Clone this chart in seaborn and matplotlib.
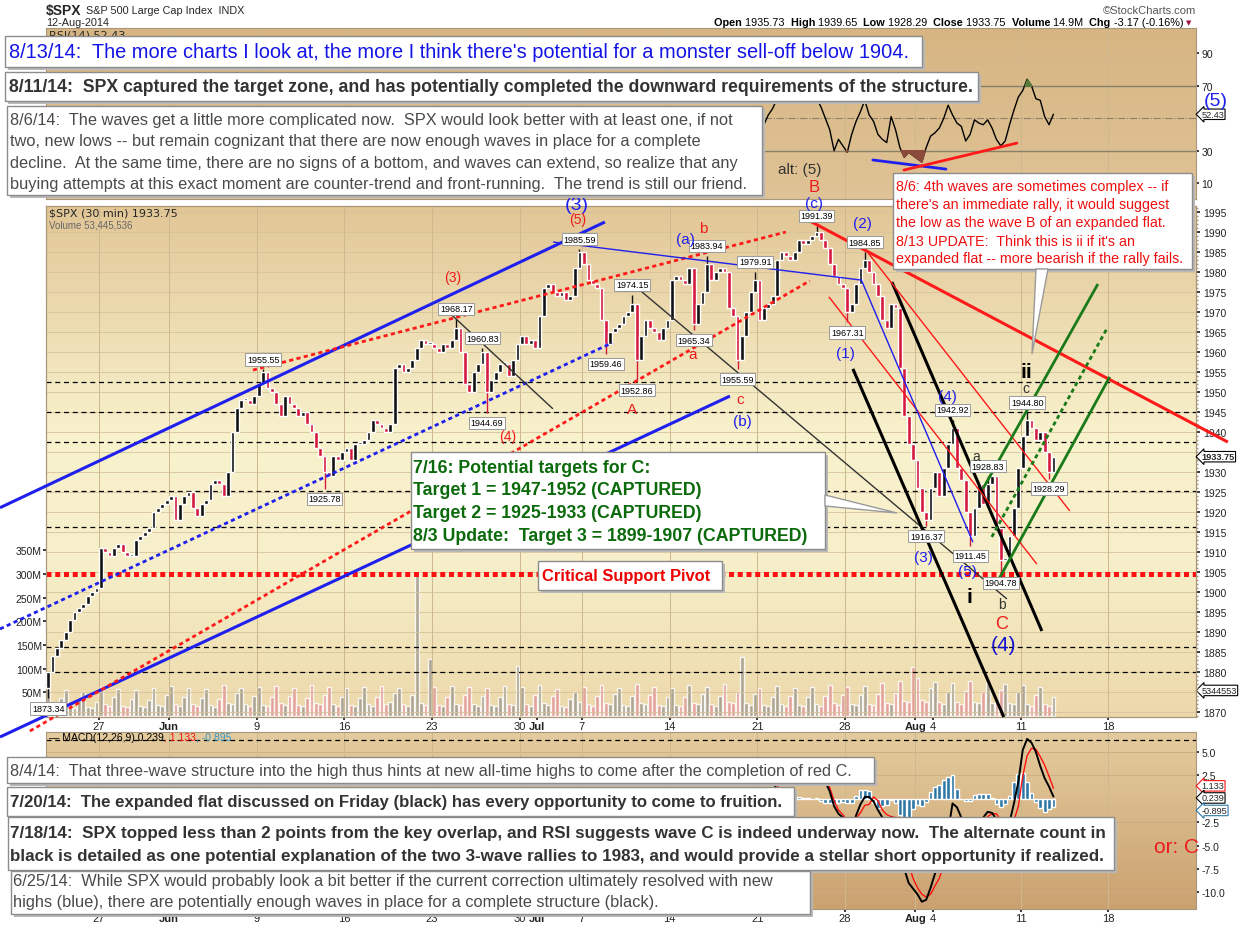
import matplotlib
matplotlib.use("Agg")
import numpy as np
import pandas as pd
import seaborn as sns
import matplotlib.pyplot as plt
from matplotlib.colors import LinearSegmentedColormap
from matplotlib.patches import Rectangle, Polygon
from matplotlib.ticker import MultipleLocator

# ------------------------------------------------------------------
# values (30 min SPX, four closes per session)
# ------------------------------------------------------------------
days = [d.strftime("%Y-%m-%d") for d in pd.bdate_range("2014-05-21", "2014-08-12")
        if d.strftime("%Y-%m-%d") not in ("2014-05-26", "2014-07-04")]
half_days = ["2014-07-03"]
first_open = 1876.0

closes = [
    [1880, 1884, 1886, 1888], [1890, 1893, 1895, 1896], [1897, 1899, 1900, 1901],
    [1911, 1910, 1909, 1911], [1912, 1910, 1909, 1909], [1913, 1914, 1915, 1916],
    [1920, 1921, 1922, 1923], [1924, 1918, 1922, 1924], [1925, 1921, 1919, 1922],
    [1923, 1927, 1928, 1927], [1924, 1930, 1940, 1946], [1948, 1948, 1947, 1949],
    [1952, 1955, 1951, 1950], [1947, 1944, 1949, 1947], [1946, 1944, 1945, 1942],
    [1940, 1936, 1934, 1930], [1929, 1934, 1933, 1935], [1936, 1933, 1937, 1937],
    [1938, 1940, 1943, 1942], [1941, 1940, 1942, 1956], [1957, 1955, 1956, 1958],
    [1961, 1963, 1962, 1962], [1961, 1960, 1962, 1961], [1963, 1966, 1960, 1952],
    [1950, 1955, 1957, 1960], [1950, 1953, 1955, 1957], [1957, 1954, 1958, 1962],
    [1964, 1962, 1963, 1961], [1969, 1976, 1977, 1975], [1974, 1975, 1973, 1974],
    [1981, 1985],
    [1982, 1978, 1977, 1976], [1968, 1962, 1965, 1966], [1967, 1969, 1970, 1972],
    [1958, 1964, 1968, 1966], [1965, 1963, 1966, 1968], [1978, 1979, 1978, 1977],
    [1981, 1967, 1972, 1975], [1982, 1978, 1980, 1981], [1980, 1971, 1969, 1958],
    [1964, 1970, 1975, 1978], [1968, 1971, 1972, 1974], [1983, 1985, 1984, 1983],
    [1985, 1988, 1987, 1988], [1989, 1990, 1988, 1986], [1982, 1979, 1977, 1976],
    [1970, 1972, 1977, 1981], [1983, 1980, 1977, 1974], [1968, 1966, 1972, 1971],
    [1956, 1944, 1937, 1933], [1926, 1920, 1918, 1926], [1930, 1924, 1931, 1937],
    [1941, 1931, 1928, 1920], [1914, 1921, 1927, 1922], [1927, 1929, 1916, 1908],
    [1908, 1914, 1921, 1931], [1939, 1943, 1941, 1938], [1940, 1935, 1930, 1933.75],
]

volumes = [  # millions
    [58, 24, 20, 38], [55, 22, 18, 35], [50, 20, 17, 30], [62, 25, 21, 40],
    [58, 22, 20, 36], [55, 21, 19, 34], [60, 24, 22, 45], [64, 26, 22, 40],
    [60, 25, 21, 38], [58, 24, 20, 36], [66, 28, 26, 48], [60, 25, 22, 42],
    [62, 24, 21, 40], [64, 27, 23, 42], [60, 24, 21, 38], [66, 28, 25, 45],
    [62, 26, 22, 40], [60, 24, 21, 38], [62, 25, 22, 40], [64, 26, 30, 48],
    [60, 25, 22, 44], [305, 28, 24, 120], [62, 24, 21, 40], [64, 26, 24, 45],
    [62, 25, 22, 42], [60, 24, 21, 40], [64, 26, 24, 105], [62, 25, 22, 44],
    [66, 27, 23, 42], [58, 22, 19, 36], [50, 30],
    [62, 25, 22, 42], [66, 28, 25, 46], [60, 24, 22, 42], [68, 28, 25, 45],
    [62, 24, 21, 40], [60, 24, 21, 40], [66, 27, 25, 46], [62, 25, 22, 42],
    [68, 30, 28, 50], [125, 28, 24, 46], [60, 24, 21, 40], [64, 26, 22, 42],
    [60, 24, 21, 40], [62, 25, 22, 42], [66, 27, 24, 45], [62, 26, 24, 44],
    [64, 26, 24, 46], [70, 28, 26, 48], [75, 32, 30, 103], [80, 34, 30, 60],
    [72, 30, 26, 50], [70, 29, 26, 52], [74, 30, 27, 50], [70, 28, 27, 55],
    [68, 28, 25, 50], [66, 26, 22, 45], [62, 25, 22, 40],
]
last_volume = 5344553

# labelled swing highs / lows: (session, quarter, price, side)
swing_points = [
    ("2014-05-21", 0, 1873.34, "low"), ("2014-06-09", 1, 1955.55, "high"),
    ("2014-06-12", 3, 1925.78, "low"), ("2014-06-24", 1, 1968.17, "high"),
    ("2014-06-25", 3, 1960.83, "high"), ("2014-06-26", 0, 1944.69, "low"),
    ("2014-07-03", 1, 1985.59, "high"), ("2014-07-08", 1, 1959.46, "low"),
    ("2014-07-09", 3, 1974.15, "high"), ("2014-07-10", 0, 1952.86, "low"),
    ("2014-07-15", 1, 1965.34, "low"), ("2014-07-16", 0, 1983.94, "high"),
    ("2014-07-17", 3, 1955.59, "low"), ("2014-07-18", 3, 1979.91, "high"),
    ("2014-07-24", 1, 1991.39, "high"), ("2014-07-28", 0, 1967.31, "low"),
    ("2014-07-29", 0, 1984.85, "high"), ("2014-08-01", 2, 1916.37, "low"),
    ("2014-08-05", 0, 1942.92, "high"), ("2014-08-06", 0, 1911.45, "low"),
    ("2014-08-07", 0, 1928.83, "high"), ("2014-08-07", 3, 1904.78, "low"),
    ("2014-08-11", 1, 1944.80, "high"), ("2014-08-12", 2, 1928.29, "low"),
]

# indicators (only the part not hidden behind the notes)
ind_from = "2014-07-21"
rsi_values = [
    [45, 46, 52, 56], [62, 61, 60, 60], [60, 61, 60, 60], [61, 62, 57, 50],
    [43, 30, 37, 33], [29, 40, 48, 54], [61, 52, 48, 40], [37, 35, 51, 43],
    [32, 26, 29, 27], [25, 23, 32, 39], [41, 44, 50, 58], [52, 47, 45, 36],
    [40, 49, 47, 46], [49, 44, 37, 33], [36, 46, 55, 63], [67, 74, 70, 62],
    [61, 51, 46, 52.43],
]
macd_values = [
    [0.5, 0.2, 0.4, 0.6], [1.8, 2.5, 2.8, 2.9], [3.0, 3.3, 3.3, 3.4], [3.4, 3.5, 2.9, 1.8],
    [0.8, -0.8, -1.6, -2.0], [-2.8, -3.0, -1.8, -0.6], [0.2, 0.2, -0.3, -1.2],
    [-2.0, -2.4, -2.0, -2.5], [-5.0, -7.5, -9.0, -9.6], [-10.2, -11.0, -10.8, -9.5],
    [-8.0, -7.0, -5.0, -3.5], [-0.5, -0.9, -2.0, -3.5], [-4.0, -3.5, -2.5, -2.0],
    [-1.4, -1.5, -2.2, -3.2], [-3.5, -2.5, -0.5, 1.8], [5.2, 6.4, 6.0, 5.0],
    [3.5, 2.2, 1.3, 0.239],
]
signal_values = [
    [0.6, 0.4, 0.4, 0.5], [1.2, 1.9, 2.4, 2.7], [2.9, 3.1, 3.2, 3.3], [3.4, 3.4, 3.1, 2.3],
    [1.2, -0.2, -1.2, -1.7], [-2.3, -2.6, -2.1, -1.5], [-0.7, -0.6, 0.2, -0.2],
    [-1.2, -1.7, -1.9, -2.0], [-3.3, -5.2, -7.0, -8.5], [-9.5, -10.2, -10.5, -10.2],
    [-9.3, -8.5, -7.0, -5.8], [-3.0, -2.0, -2.0, -3.3], [-3.8, -3.9, -3.0, -2.5],
    [-1.9, -1.6, -1.6, -2.3], [-2.9, -2.8, -2.3, -0.8], [2.4, 4.6, 5.4, 5.3],
    [4.5, 3.6, 2.4, 1.133],
]
macd_readout = {"macd": 0.239, "signal": 1.133, "hist": -0.895}

tick_dates = ["2014-05-27", "2014-06-02", "2014-06-09", "2014-06-16", "2014-06-23",
              "2014-06-30", "2014-07-01", "2014-07-07", "2014-07-14", "2014-07-21",
              "2014-07-28", "2014-08-01", "2014-08-04", "2014-08-11", "2014-08-18"]
tick_labels = ["27", "Jun", "9", "16", "23", "30", "Jul", "7", "14", "21", "28",
               "Aug", "4", "11", "18"]
grid_dates = ["2014-05-27", "2014-06-02", "2014-06-09", "2014-06-16", "2014-06-23",
              "2014-06-30", "2014-07-07", "2014-07-14", "2014-07-21", "2014-07-28",
              "2014-08-01", "2014-08-11", "2014-08-18"]
price_levels = [1952.3, 1944.8, 1937.3, 1925.3, 1916.1, 1886.3, 1879.9]
support_pivot = 1904.4
quote = dict(Open="1935.73", High="1939.65", Low="1928.29", Close="1933.75",
             Volume="14.9M", Chg="-3.17 (-0.16%)")

# ------------------------------------------------------------------
W, H = 1240, 928
BLUE, RED, GREEN = "#1f1fee", "#ee1c1c", "#0b6a0b"
UPC, DNC = "#111111", "#d41a3c"

sns.set_theme(style="white")
plt.rcParams["font.family"] = ["Liberation Sans", "DejaVu Sans"]

future = [d.strftime("%Y-%m-%d") for d in pd.bdate_range("2014-08-13", "2014-08-29")]
all_days = days + future
nbars = [7 if d in half_days else 13 for d in all_days]
start = dict(zip(all_days, np.concatenate([[0], np.cumsum(nbars)[:-1]])))

rows = []
for d, cl, vo in zip(days, closes, volumes):
    n = 7 if d in half_days else 13
    for k, (c, v) in enumerate(zip(cl, vo)):
        rows.append(dict(day=d, q=k, x=start[d] + (k + 0.5) * n / len(cl), close=c, vol=v))
bars = pd.DataFrame(rows)
bars["open"] = bars["close"].shift(1).fillna(first_open)
bars["high"] = bars[["open", "close"]].max(axis=1)
bars["low"] = bars[["open", "close"]].min(axis=1)
key = {(r.day, r.q): i for i, r in bars.iterrows()}
for d, q, p, side in swing_points:
    i = key[(d, q)]
    if side == "high":
        bars.loc[i, "high"] = max(bars.loc[i, "high"], p)
    else:
        bars.loc[i, "low"] = min(bars.loc[i, "low"], p)
bars["up"] = bars["close"] >= bars["open"]

ind = bars[bars["day"] >= ind_from].copy()
ind["rsi"] = [v for row in rsi_values for v in row]
ind["macd"] = [v for row in macd_values for v in row]
ind["signal"] = [v for row in signal_values for v in row]
ind["hist"] = ind["macd"] - ind["signal"]

fig = plt.figure(figsize=(W / 100, H / 100), dpi=100)
fig.patch.set_facecolor("white")


def rect(x0, y0, x1, y1):
    return [x0 / W, 1 - y1 / H, (x1 - x0) / W, (y1 - y0) / H]


ax_rsi = fig.add_axes(rect(46, 29, 1196, 200))
ax_vol = fig.add_axes(rect(46, 207, 1196, 718))
ax = fig.add_axes(rect(46, 207, 1196, 718))
ax_macd = fig.add_axes(rect(46, 733, 1196, 910))
ov = fig.add_axes([0, 0, 1, 1], zorder=20)
ov.set_xlim(0, W)
ov.set_ylim(H, 0)
ov.axis("off")


def shade(axis, stops):
    cmap = LinearSegmentedColormap.from_list("bg", stops)
    axis.imshow(np.linspace(0, 1, 256).reshape(-1, 1), cmap=cmap, origin="lower",
                extent=[0, 1, 0, 1], transform=axis.transAxes, aspect="auto", zorder=-5)


shade(ax_vol, [(0, "#ECD8AA"), (0.3, "#F7EFC9"), (0.55, "#F8F2CD"), (1, "#E2C696")])
shade(ax_rsi, [(0, "#E0C396"), (1, "#D6B582")])
shade(ax_macd, [(0, "#CBA170"), (1, "#E4CC9E")])
ax.set_facecolor("none")

XMAX = 852
for axis in (ax_rsi, ax_vol, ax, ax_macd):
    axis.set_xlim(0, XMAX)
    for s in axis.spines.values():
        s.set_color("#a8977a")
        s.set_linewidth(0.8)
    for d in grid_dates:
        axis.axvline(start[d], color="#cdb88f", lw=0.7, zorder=0.5)

# ---- volume ----
ax_vol.set_ylim(-2, 1078)
ax_vol.bar(bars["x"], bars["vol"], width=2.8,
           color=np.where(bars["up"], "#a39c8c", "#e39a96"), alpha=0.85, zorder=1)
ax_vol.set_yticks([50, 100, 150, 200, 250, 300, 350])
ax_vol.set_yticklabels([f"{v}M" for v in [50, 100, 150, 200, 250, 300, 350]])
ax_vol.tick_params(axis="y", left=True, labelleft=True, length=2, pad=1, labelsize=7.5,
                   colors="#222")
ax_vol.set_xticks([])

# ---- price ----
ax.set_ylim(1868.7, 1996.4)
for p in np.arange(1870, 2000, 5):
    ax.axhline(p, color="#d6c39c", lw=0.6, zorder=0.4)
for p in price_levels:
    ax.axhline(p, color="black", lw=0.9, ls=(0, (4, 3)), zorder=2)
ax.axhline(support_pivot, color="#ff1010", lw=3.6, ls=(0, (1, 0.75)), zorder=2)

colors = np.where(bars["up"], UPC, DNC)
ax.vlines(bars["x"], bars["low"], bars["high"], colors=colors, lw=1.0, zorder=4)
ax.bar(bars["x"], np.maximum((bars["close"] - bars["open"]).abs(), 0.35),
       bottom=bars[["open", "close"]].min(axis=1), width=2.8, color=colors, zorder=4)

trendlines = [
    ((-34.1, 1921.0), (414.1, 1992.4), BLUE, 2.2, "-"),
    ((-34.1, 1863.7), (506.7, 1948.9), BLUE, 2.2, "-"),
    ((-34.1, 1890.7), (419.3, 1962.2), BLUE, 2.0, (0, (1.5, 1.2))),
    ((153.3, 1955.4), (548.1, 1989.9), "#ff1a1a", 2.0, (0, (1.5, 1.2))),
    ((-11.9, 1865.2), (565.9, 1977.7), "#ff1a1a", 2.0, (0, (1.5, 1.2))),
    ((375.6, 1987.4), (603.7, 1977.9), BLUE, 1.0, "-"),
    ((294.1, 1971.2), (375.6, 1945.7), "#333333", 1.0, "-"),
    ((437.0, 1976.2), (711.9, 1898.2), "#333333", 1.0, "-"),
    ((597.8, 1955.7), (709.6, 1868.7), "black", 2.2, "-"),
    ((626.7, 1977.4), (737.8, 1890.2), "black", 2.2, "-"),
    ((560.0, 1993.7), (875.6, 1937.4), "#ff1a1a", 2.2, "-"),
    ((580.0, 1973.7), (734.1, 1906.9), "#ff1a1a", 1.0, "-"),
    ((606.7, 1985.7), (758.5, 1920.2), "#ff1a1a", 1.0, "-"),
    ((603.7, 1978.2), (686.7, 1912.4), BLUE, 1.0, "-"),
    ((694.1, 1925.7), (779.3, 1976.9), "#1a7a1a", 2.0, "-"),
    ((700.7, 1913.7), (785.9, 1965.7), "#1a7a1a", 2.0, (0, (1.5, 1.2))),
    ((705.2, 1902.7), (788.1, 1953.7), "#1a7a1a", 2.0, "-"),
]
for (x0, y0), (x1, y1), c, lw, ls in trendlines:
    ax.plot([x0, x1], [y0, y1], color=c, lw=lw, ls=ls, clip_on=False, zorder=5,
            solid_capstyle="butt")

for d, q, p, side in swing_points:
    x = bars.loc[key[(d, q)], "x"]
    off = 4 if side == "high" else -4
    ax.annotate(f"{p:.2f}", (x, p), xytext=(0, off), textcoords="offset points",
                ha="center", va="bottom" if side == "high" else "top", fontsize=6.5,
                color="black", zorder=7, annotation_clip=False,
                bbox=dict(boxstyle="square,pad=0.18", fc="white", ec="#9a9a9a", lw=0.7))

ax.yaxis.tick_right()
ticks = [p for p in range(1870, 2000, 5) if p not in (1875, 1935)]
ax.set_yticks(ticks)
ax.set_yticklabels([str(p) for p in ticks])
ax.yaxis.set_minor_locator(MultipleLocator(1))
ax.tick_params(axis="y", which="major", right=True, length=3, pad=2, labelsize=7.5,
               colors="#222")
ax.tick_params(axis="y", which="minor", right=True, length=1.5, color="#a8977a")

for axis in (ax, ax_macd):
    axis.set_xticks([start[d] for d in tick_dates])
    axis.set_xticklabels(tick_labels, fontsize=8)
    for lab in axis.get_xticklabels():
        if lab.get_text() in ("Jun", "Jul", "Aug"):
            lab.set_fontweight("bold")
    axis.tick_params(axis="x", bottom=True, length=2, pad=1, colors="#222")


def tag(axis, text, yval, ec, bold=False, coords=("axes fraction", "data")):
    axis.annotate(text, (1.0, yval), xycoords=coords, xytext=(4, 0),
                  textcoords="offset points", ha="left", va="center", fontsize=6.6,
                  weight="bold" if bold else "normal", annotation_clip=False, zorder=8,
                  bbox=dict(boxstyle="larrow,pad=0.08", fc="white", ec=ec, lw=0.8))


tag(ax, f"{bars['close'].iloc[-1]:.2f}", bars["close"].iloc[-1], "black", bold=True)
tag(ax_vol, str(last_volume), 0.052, "black", coords="axes fraction")

# ---- RSI ----
ax_rsi.set_ylim(0.3, 105.5)
ax_rsi.axhline(70, color="#8a7f6a", lw=1.0)
ax_rsi.axhline(30, color="#8a7f6a", lw=1.0)
ax_rsi.axhline(50, color="#8a7f6a", lw=0.8, ls="-.")
sns.lineplot(data=ind, x="x", y="rsi", ax=ax_rsi, color="black", lw=1.0,
             estimator=None, sort=False, legend=False)
ax_rsi.fill_between(ind["x"], ind["rsi"], 70, where=ind["rsi"] > 70, interpolate=True,
                    color="#587a3c", zorder=3)
ax_rsi.fill_between(ind["x"], ind["rsi"], 30, where=ind["rsi"] < 30, interpolate=True,
                    color="#8c4a3a", zorder=3)
ax_rsi.plot([612.6, 666.7], [24.3, 18.7], color=BLUE, lw=2)
ax_rsi.plot([635.6, 719.3], [18.1, 34.7], color="#ff1a1a", lw=2)
ax_rsi.yaxis.tick_right()
ax_rsi.set_yticks([10, 30, 70, 90])
ax_rsi.tick_params(axis="y", right=True, length=2, pad=2, labelsize=7.5, colors="#222")
ax_rsi.set_xticks([])
ax_rsi.set_xlabel("")
ax_rsi.set_ylabel("")
tag(ax_rsi, f"{ind['rsi'].iloc[-1]:.2f}", ind["rsi"].iloc[-1], "black")

# ---- MACD ----
ax_macd.set_ylim(-11.78, 7.14)
for v in [5, 2.5, -2.5, -5, -7.5, -10]:
    ax_macd.axhline(v, color="#c9ad80", lw=0.6, zorder=0.4)
ax_macd.axhline(6.3, color="black", lw=0.9, ls=(0, (4, 3)))
ax_macd.bar(ind["x"], ind["hist"], width=2.8, color="#2c77a6", zorder=2)
sns.lineplot(data=ind, x="x", y="signal", ax=ax_macd, color="#ff1010", lw=1.0,
             estimator=None, sort=False, legend=False, zorder=3)
sns.lineplot(data=ind, x="x", y="macd", ax=ax_macd, color="black", lw=1.4,
             estimator=None, sort=False, legend=False, zorder=4)
ax_macd.yaxis.tick_right()
ax_macd.set_yticks([5, 2.5, -2.5, -5, -7.5, -10])
ax_macd.set_yticklabels(["5.0", "2.5", "-2.5", "-5.0", "-7.5", "-10.0"])
ax_macd.tick_params(axis="y", right=True, length=2, pad=2, labelsize=7.5, colors="#222")
ax_macd.set_xlabel("")
ax_macd.set_ylabel("")
tag(ax_macd, f"{macd_readout['signal']:.3f}", macd_readout["signal"] + 0.25, "#ff1010")
tag(ax_macd, f"{macd_readout['macd']:.3f}", macd_readout["macd"] - 0.15, "black")
tag(ax_macd, f"{macd_readout['hist']:.3f}", macd_readout["hist"] - 0.35, "#2c77a6")

# ---- overlay: headers, wave labels, notes ----
renderer = fig.canvas.get_renderer()


def pieces(x, y, parts, size, right=None):
    texts = []
    for s, w, c in parts:
        t = ov.text(x, y, s, fontsize=size, weight=w, color=c, va="center", zorder=2)
        x += t.get_window_extent(renderer=renderer).width
        texts.append(t)
    if right is not None:
        shift = right - x
        for t in texts:
            px, py = t.get_position()
            t.set_position((px + shift, py))
        x = right
    return x


ov.text(46, 11, "$SPX", fontsize=10, weight="bold", va="center")
ov.text(86, 11, "S&P 500 Large Cap Index  INDX", fontsize=7.8, va="center")
ov.text(46, 23, "12-Aug-2014", fontsize=7.8, va="center")
ov.text(1196, 11, "\u00a9StockCharts.com", fontsize=8, va="center", ha="right", color="#555")
parts = []
for i, (k, v) in enumerate(quote.items()):
    parts += [(k + " ", "bold", "black"), (v + ("  " if i < len(quote) - 1 else ""), "normal", "black")]
pieces(712, 23, parts, 7.8, right=1183)
ov.text(1186, 23, "\u25bc", fontsize=5, color="#a01040", va="center", family=["DejaVu Sans"])
ov.text(49, 214, "$SPX (30 min) 1933.75", fontsize=8, va="center", family=["DejaVu Sans"])
ov.text(49, 225, "Volume 53,445,536", fontsize=7, va="center", color="#666")
ov.text(49, 35, "RSI(14) 52.43", fontsize=8, va="center", family=["DejaVu Sans"])
pieces(49, 738, [("\u2014 MACD(12,26,9) %.3f" % macd_readout["macd"], "normal", "black"),
                 (", %.3f" % macd_readout["signal"], "normal", "#ff1010"),
                 (", %.3f" % macd_readout["hist"], "normal", "#3399cc")], 7.5)

wave_labels = [
    ("(3)", 577, 205, BLUE, 14, "normal"), ("(5)", 578, 220, RED, 10, "normal"),
    ("(3)", 453, 278, RED, 10, "normal"), ("(4)", 508, 437, RED, 10, "normal"),
    ("(a)", 685, 240, BLUE, 11, "normal"), ("b", 703, 229, RED, 11, "normal"),
    ("a", 693, 355, RED, 11, "normal"), ("A", 632, 410, RED, 11, "normal"),
    ("c", 740, 400, RED, 11, "normal"), ("(b)", 742, 422, BLUE, 11, "normal"),
    ("B", 814, 188, RED, 12, "normal"), ("(c)", 814, 204, BLUE, 11, "normal"),
    ("(2)", 862, 224, BLUE, 11, "normal"), ("(1)", 845, 354, BLUE, 11, "normal"),
    ("alt: (5)", 800, 170, "#333333", 11, "normal"), ("(4)", 947, 397, BLUE, 11, "normal"),
    ("a", 976, 457, "#333333", 10, "normal"), ("ii", 1026, 373, "black", 15, "bold"),
    ("c", 1026, 389, "#333333", 10, "normal"), ("(3)", 923, 558, BLUE, 11, "normal"),
    ("(5)", 967, 572, BLUE, 11, "normal"), ("i", 969, 598, "black", 15, "bold"),
    ("b", 1002, 605, "#333333", 10, "normal"), ("C", 1002, 625, RED, 13, "normal"),
    ("(4)", 1003, 646, "#1010d0", 15, "normal"), ("(5)", 1216, 102, BLUE, 14, "normal"),
    ("or: C", 1176, 848, RED, 15, "normal"),
]
for s, x, y, c, fs, w in wave_labels:
    ov.text(x, y, s, color=c, fontsize=fs, weight=w, ha="center", va="center", zorder=2)


def note(box, lines, ys, x, fit_line, right, color, weight="normal"):
    x0, y0, x1, y1 = box
    ov.add_patch(Rectangle((x0 + 3, y0 + 3), x1 - x0, y1 - y0, fc="#b8b8b8", ec="none", zorder=3))
    ov.add_patch(Rectangle((x0, y0), x1 - x0, y1 - y0, fc="white", ec="#8c8c8c", lw=1, zorder=4))
    texts = [ov.text(x, y, s, fontsize=12, color=color, weight=weight, ha="left",
                     va="center", zorder=6) for s, y in zip(lines, ys)]
    w = texts[fit_line].get_window_extent(renderer=renderer).width
    for t in texts:
        t.set_fontsize(12 * (right - x) / w)


note((5, 37, 922, 68),
     ["8/13/14:  The more charts I look at, the more I think there's potential for a monster sell-off below 1904."],
     [52.5], 9, 0, 913, "#1414e6")
note((5, 73, 978, 102),
     ["8/11/14:  SPX captured the target zone, and has potentially completed the downward requirements of the structure."],
     [88], 9, 0, 968, "#333333", "bold")
note((7, 107, 762, 196),
     ["8/6/14:  The waves get a little more complicated now.  SPX would look better with at least one, if not",
      "two, new lows -- but remain cognizant that there are now enough waves in place for a complete",
      "decline.  At the same time, there are no signs of a bottom, and waves can extend, so realize that any",
      "buying attempts at this exact moment are counter-trend and front-running.  The trend is still our friend."],
     [120, 141.7, 163.3, 184.3], 10, 3, 747, "#4a4a4a")
note((893, 174, 1192, 270),
     ["8/6: 4th waves are sometimes complex -- if",
      "there's an immediate rally, it would suggest",
      "the low as the wave B of an expanded flat.",
      "8/13 UPDATE:  Think this is ii if it's an",
      "expanded flat -- more bearish if the rally fails."],
     [187.3, 205, 222.7, 241.7, 259.3], 896, 4, 1181, "#ee1010")
ov.add_patch(Polygon([(1036, 270), (1048, 270), (1032, 355)], closed=True, fc="white",
                     ec="#9a9a9a", lw=1, zorder=5))
note((411, 453, 825, 550),
     ["7/16: Potential targets for C:",
      "Target 1 = 1947-1952 (CAPTURED)",
      "Target 2 = 1925-1933 (CAPTURED)",
      "8/3 Update:  Target 3 = 1899-1907 (CAPTURED)"],
     [468.3, 490.7, 513.3, 536.7], 413, 3, 806, GREEN, "bold")
ov.add_patch(Polygon([(825, 496), (825, 507), (897, 514)], closed=True, fc="white",
                     ec="#9a9a9a", lw=1, zorder=5))
note((538, 562, 722, 591), ["Critical Support Pivot"], [576.7], 541.5, 0, 709, "#ee0000", "bold")
note((7, 758, 874, 784),
     ["8/4/14:  That three-wave structure into the high thus hints at new all-time highs to come after the completion of red C."],
     [771.7], 10, 0, 854, "#4a4a4a")
note((7, 788, 794, 817),
     ["7/20/14:  The expanded flat discussed on Friday (black) has every opportunity to come to fruition."],
     [802.7], 10, 0, 782, "#333333", "bold")
note((8, 818, 1114, 871),
     ["7/18/14:  SPX topped less than 2 points from the key overlap, and RSI suggests wave C is indeed underway now.  The alternate count in",
      "black is detailed as one potential explanation of the two 3-wave rallies to 1983, and would provide a stellar short opportunity if realized."],
     [834, 856.7], 10, 0, 1096, "#333333", "bold")
note((11, 872, 810, 915),
     ["6/25/14:  While SPX would probably look a bit better if the current correction ultimately resolved with new",
      "highs (blue), there are potentially enough waves in place for a complete structure (black)."],
     [881.7, 902.7], 13, 0, 775, "#4a4a4a")

fig.savefig("out.png", dpi=100)
